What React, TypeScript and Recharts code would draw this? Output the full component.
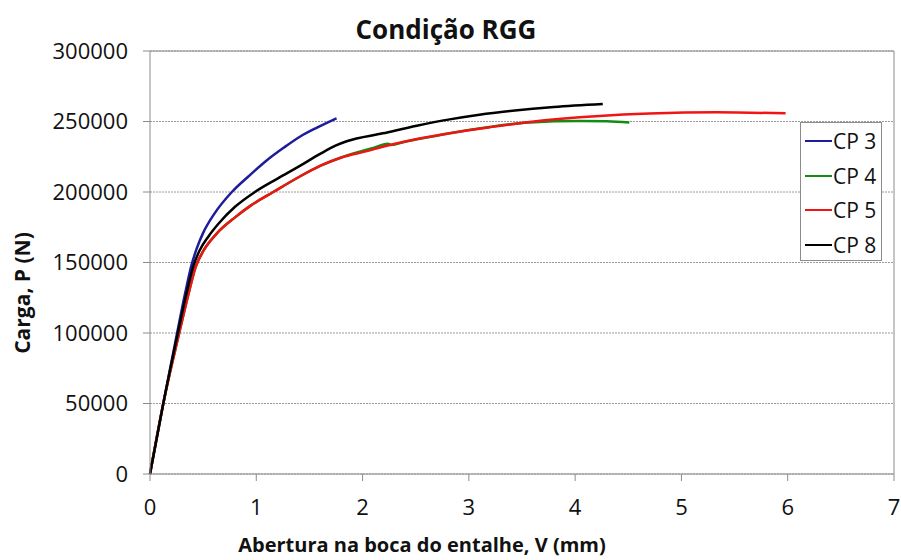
import { LineChart, Line, XAxis, YAxis, CartesianGrid, ReferenceLine } from 'recharts';

// abertura V (mm) x carga P (N)
const cp3X = [0, 0.125, 0.255, 0.33, 0.39, 0.44, 0.5, 0.6, 0.77, 0.94, 1.1, 1.26, 1.41, 1.58, 1.755];
const cp3Y = [0, 50000, 100000, 128000, 148000, 160000, 171000, 184000, 200000, 212000, 222500, 231500, 239200, 246000, 252300];

const cp4X = [0, 0.125, 0.275, 0.36, 0.43, 0.5, 0.627, 0.8, 0.95, 1.16, 1.41, 1.6, 1.8, 1.92, 2.08, 2.24, 2.27, 2.4, 2.63, 3.0, 3.57, 4.04, 4.3, 4.51];
const cp4Y = [0, 50000, 100000, 127000, 147000, 158000, 170500, 182000, 190500, 200000, 211000, 218500, 224500, 227500, 230800, 234200, 233300, 235700, 239000, 244000, 249300, 250300, 250100, 249300];

const cp5X = [0, 0.125, 0.275, 0.36, 0.43, 0.5, 0.627, 0.8, 0.95, 1.16, 1.41, 1.6, 1.8, 2.04, 2.19, 2.4, 2.63, 2.82, 3.2, 3.57, 4.23, 4.7, 5.33, 5.98];
const cp5Y = [0, 50000, 100000, 127000, 147000, 158000, 170500, 182000, 190500, 200000, 211000, 218500, 224500, 229000, 232100, 235800, 239200, 241700, 246000, 249700, 253900, 255600, 256500, 255800];

const cp8X = [0, 0.125, 0.262, 0.34, 0.41, 0.47, 0.55, 0.65, 0.8, 0.987, 1.2, 1.41, 1.6, 1.75, 1.85, 2.19, 2.51, 2.82, 3.1, 3.41, 3.8, 4.26];
const cp8Y = [0, 50000, 100000, 127000, 148000, 159000, 168500, 178000, 189500, 200000, 209500, 218500, 227000, 233000, 236000, 241600, 247000, 251500, 254800, 257600, 260300, 262400];

const xTicks = [0, 1, 2, 3, 4, 5, 6, 7];
const yTicks = [0, 50000, 100000, 150000, 200000, 250000, 300000];

const series = [
  { name: 'CP 3', color: '#1c1c9c', xs: cp3X, ys: cp3Y },
  { name: 'CP 4', color: '#138c13', xs: cp4X, ys: cp4Y },
  { name: 'CP 5', color: '#f01414', xs: cp5X, ys: cp5Y },
  { name: 'CP 8', color: '#000000', xs: cp8X, ys: cp8Y },
];

const toPoints = (xs: number[], ys: number[]) => xs.map((x, i) => ({ x, y: ys[i] }));

const font = '"Open Sans", sans-serif';

export default function App() {
  return (
    <div style={{ position: 'absolute', left: 0, top: 0, width: 901, height: 560, background: '#fff' }}>
      <LineChart width={901} height={560} margin={{ top: 51, right: 7, bottom: 0, left: 50 }}>
        <CartesianGrid horizontal vertical={false} stroke="#9a9a9a" strokeDasharray="2 1" />
        <XAxis
          type="number"
          dataKey="x"
          domain={[0, 7]}
          ticks={xTicks}
          height={86}
          tickSize={7}
          tickMargin={18}
          stroke="#8c8c8c"
          tick={{ fill: '#111', fontSize: 22, fontFamily: font }}
          allowDuplicatedCategory={false}
        />
        <YAxis
          type="number"
          dataKey="y"
          domain={[0, 300000]}
          ticks={yTicks}
          width={100}
          tickSize={7}
          tickMargin={15}
          stroke="#8c8c8c"
          tick={{ fill: '#111', fontSize: 22, fontFamily: font }}
        />
        <ReferenceLine y={300000} stroke="#8c8c8c" strokeWidth={1} />
        <ReferenceLine x={7} stroke="#8c8c8c" strokeWidth={1} />
        {series.map((s) => (
          <Line
            key={s.name}
            name={s.name}
            data={toPoints(s.xs, s.ys)}
            dataKey="y"
            type="monotone"
            stroke={s.color}
            strokeWidth={2.5}
            dot={false}
            activeDot={false}
            isAnimationActive={false}
          />
        ))}
        <text x={446} y={39} textAnchor="middle" fontFamily={font} fontWeight="bold" fontSize={26} fill="#111">
          Condição RGG
        </text>
        <text x={422} y={552} textAnchor="middle" fontFamily={font} fontWeight="bold" fontSize={20} fill="#111">
          Abertura na boca do entalhe, V (mm)
        </text>
        <text
          x={22}
          y={293}
          textAnchor="middle"
          dominantBaseline="central"
          transform="rotate(-90 22 293)"
          fontFamily={font}
          fontWeight="bold"
          fontSize={21}
          fill="#111"
        >
          Carga, P (N)
        </text>
      </LineChart>
      <div
        style={{
          position: 'absolute',
          left: 800,
          top: 122,
          width: 82,
          height: 139,
          border: '1px solid #8c8c8c',
          background: '#fff',
          boxSizing: 'border-box',
          padding: '1px 0 0 4px',
        }}
      >
        {series.map((s) => (
          <div key={s.name} style={{ display: 'flex', alignItems: 'center', height: 34.5 }}>
            <span style={{ display: 'inline-block', width: 27, height: 2, background: s.color }} />
            <span style={{ fontFamily: font, fontSize: 21, color: '#111', marginLeft: 1 }}>{s.name}</span>
          </div>
        ))}
      </div>
    </div>
  );
}
